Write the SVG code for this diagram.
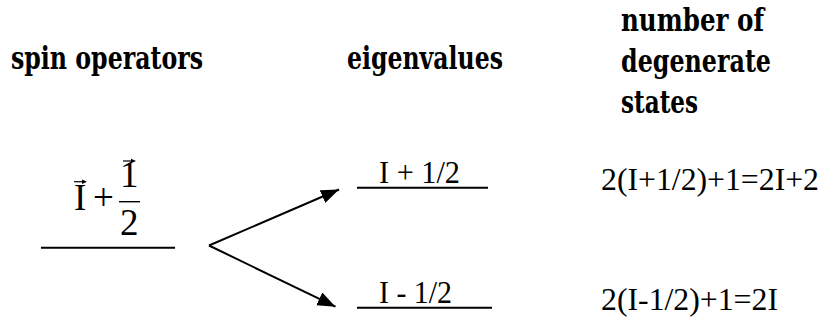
<svg xmlns="http://www.w3.org/2000/svg" width="822" height="320" viewBox="0 0 822 320">
<style>
.h{font-family:'DejaVu Serif Condensed','DejaVu Serif',serif;font-weight:700;font-size:31px;fill:#000}
.t{font-family:'Liberation Serif','Times New Roman',serif;font-size:32px;fill:#000}
.m{font-family:'Liberation Serif','Times New Roman',serif;font-size:37px;fill:#000}
.ln{stroke:#000;stroke-width:2;fill:none}
.vec{stroke:#000;stroke-width:1.2;fill:none}
</style>
<defs>
<marker id="ah" markerUnits="userSpaceOnUse" markerWidth="20" markerHeight="16" refX="18" refY="7" orient="auto">
<path d="M0,0 L18,7 L0,14 z" fill="#000"/>
</marker>
</defs>
<g id="headers">
<text class="h" x="11" y="69" textLength="192" lengthAdjust="spacingAndGlyphs">spin operators</text>
<text class="h" x="347" y="69" textLength="156" lengthAdjust="spacingAndGlyphs">eigenvalues</text>
<text class="h" x="621" y="31" textLength="143" lengthAdjust="spacingAndGlyphs">number of</text>
<text class="h" x="621" y="72" textLength="150" lengthAdjust="spacingAndGlyphs">degenerate</text>
<text class="h" x="621" y="113" textLength="77" lengthAdjust="spacingAndGlyphs">states</text>
</g>
<g id="spin-level">
<text class="m" x="74" y="210">I</text>
<line class="vec" x1="74" y1="181.7" x2="84" y2="181.7"/>
<path d="M82,179.5 L87,181.7 L82,183.9 z" fill="#000"/>
<text class="m" x="93" y="210">+</text>
<text class="m" x="120" y="187">1</text>
<line class="vec" x1="123" y1="161" x2="133" y2="161"/>
<path d="M131,158.8 L136,161 L131,163.2 z" fill="#000"/>
<line x1="119" y1="201.7" x2="140" y2="201.7" stroke="#000" stroke-width="1.4"/>
<text class="m" x="120" y="235">2</text>
<line class="ln" x1="41" y1="247.7" x2="175" y2="247.7"/>
</g>
<g id="level-plus">
<text class="t" x="379" y="183.3" textLength="81" lengthAdjust="spacingAndGlyphs">I + 1/2</text>
<line class="ln" x1="357" y1="187.7" x2="488" y2="187.7"/>
</g>
<g id="level-minus">
<text class="t" x="379" y="303.3" textLength="73" lengthAdjust="spacingAndGlyphs">I - 1/2</text>
<line class="ln" x1="357" y1="307.7" x2="492" y2="307.7"/>
</g>
<g id="count-plus">
<text class="t" x="601" y="190" textLength="218" lengthAdjust="spacingAndGlyphs">2(I+1/2)+1=2I+2</text>
</g>
<g id="count-minus">
<text class="t" x="601" y="310" textLength="177" lengthAdjust="spacingAndGlyphs">2(I-1/2)+1=2I</text>
</g>
<g id="connectors">
<line class="ln" x1="209" y1="245.5" x2="339" y2="189.5" marker-end="url(#ah)"/>
<line class="ln" x1="209" y1="245.5" x2="335.5" y2="306.7" marker-end="url(#ah)"/>
</g>
</svg>
